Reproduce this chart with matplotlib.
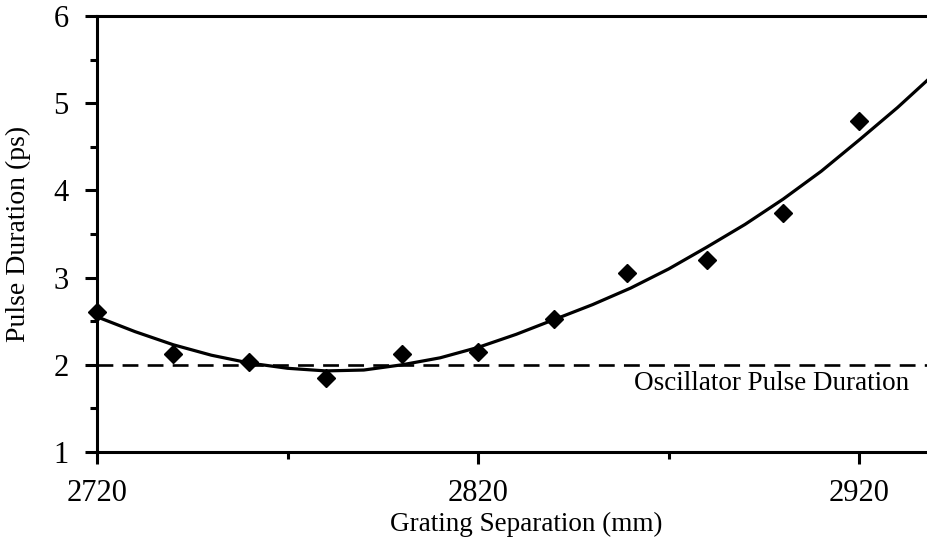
import matplotlib.pyplot as plt

# measured points
sep_mm = [2720, 2740, 2760, 2780, 2800, 2820, 2840, 2859, 2880, 2900, 2920]
pulse_ps = [2.60, 2.12, 2.03, 1.85, 2.12, 2.15, 2.52, 3.05, 3.20, 3.74, 4.80]

# fitted curve
fit_x = [2720, 2730, 2740, 2750, 2760, 2770, 2780, 2790, 2800, 2810, 2820,
         2830, 2840, 2850, 2860, 2870, 2880, 2890, 2900, 2910, 2920, 2930, 2938]
fit_y = [2.55, 2.38, 2.23, 2.11, 2.02, 1.96, 1.93, 1.94, 2.00, 2.08, 2.20,
         2.35, 2.52, 2.69, 2.88, 3.10, 3.35, 3.61, 3.90, 4.22, 4.58, 4.95, 5.27]

osc_duration = 2.0

x_major = [2720, 2820, 2920]
x_minor = [2770, 2870]
y_major = [1, 2, 3, 4, 5, 6]
y_minor = [1.5, 2.5, 3.5, 4.5, 5.5]

plt.rcParams['font.family'] = ['Liberation Serif', 'DejaVu Serif']

fig = plt.figure(figsize=(9.28, 5.42), dpi=100)
ax = fig.add_axes([97 / 928, 90 / 542, 1 - 97 / 928, 436 / 542])

ax.plot(fit_x, fit_y, color='black', lw=2.3)
ax.plot(sep_mm, pulse_ps, 'D', color='black', ms=9, clip_on=False)
ax.axhline(osc_duration, color='black', lw=1.9, ls=(0, (6, 3.5)))
ax.text(2897, 1.79, 'Oscillator Pulse Duration', ha='center', va='center', fontsize=19.5)

ax.set_xlim(2720, 2938)
ax.set_ylim(1, 6)
ax.set_xticks(x_major)
ax.set_xticks(x_minor, minor=True)
ax.set_yticks(y_major)
ax.set_yticks(y_minor, minor=True)

for side in ['left', 'bottom', 'top']:
    ax.spines[side].set_linewidth(2.2)
ax.spines['right'].set_visible(False)

ax.tick_params(which='major', direction='out', length=8.5, width=2.2, labelsize=22)
ax.tick_params(which='minor', direction='out', length=5, width=2.2)
ax.tick_params(axis='x', which='major', pad=11)
ax.tick_params(axis='y', which='major', pad=12)

ax.set_xlabel('Grating Separation (mm)', fontsize=19.5)
ax.xaxis.set_label_coords(0.517, -0.137)
ax.set_ylabel('Pulse Duration (ps)', fontsize=20)
ax.yaxis.set_label_coords(-0.079, 0.5)

plt.savefig('out.png', dpi=100)
